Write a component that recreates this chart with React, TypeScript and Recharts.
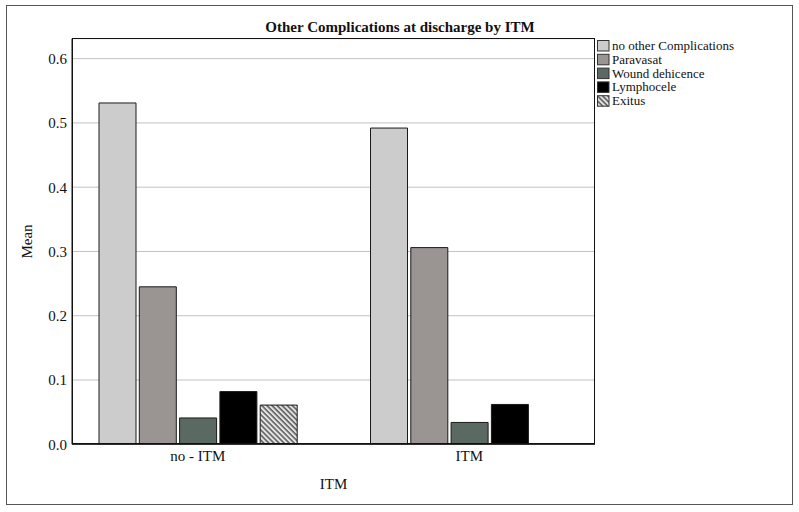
import React from "react";
import { BarChart, Bar, XAxis, YAxis, CartesianGrid } from "recharts";

// groups on the x axis
const categories = ["no - ITM", "ITM"];

// mean per group
const noOtherComplications = [0.531, 0.492];
const paravasat = [0.245, 0.306];
const woundDehicence = [0.041, 0.034];
const lymphocele = [0.082, 0.062];
const exitus = [0.061, null];

const yTicks = [0, 0.1, 0.2, 0.3, 0.4, 0.5, 0.6];

const SERIES = [
  { key: "noOther", name: "no other Complications", values: noOtherComplications, fill: "#cccccc" },
  { key: "paravasat", name: "Paravasat", values: paravasat, fill: "#9a9493" },
  { key: "wound", name: "Wound dehicence", values: woundDehicence, fill: "#5a6a62" },
  { key: "lympho", name: "Lymphocele", values: lymphocele, fill: "#000000" },
  { key: "exitus", name: "Exitus", values: exitus, fill: "url(#hatch)" },
];

const FONT = "Liberation Serif, DejaVu Serif, serif";

const data = categories.map((c, i) => {
  const row: Record<string, string | number | null> = { name: c };
  SERIES.forEach((s) => {
    row[s.key] = s.values[i];
  });
  return row;
});

function HatchDefs({ id }: { id: string }) {
  return (
    <defs>
      <pattern
        id={id}
        width="3.6"
        height="3.6"
        patternUnits="userSpaceOnUse"
        patternTransform="rotate(45)"
      >
        <rect width="3.6" height="3.6" fill="#e4e4e4" />
        <line x1="0" y1="0.8" x2="3.6" y2="0.8" stroke="#555" strokeWidth="1.5" />
      </pattern>
    </defs>
  );
}

function LegendBox() {
  return (
    <svg
      width={200}
      height={80}
      style={{ position: "absolute", left: 596, top: 38, fontFamily: FONT }}
    >
      <HatchDefs id="hatchLegend" />
      {SERIES.map((s, i) => (
        <g key={s.key} transform={`translate(0, ${i * 13.8})`}>
          <rect
            x={1.5}
            y={2.5}
            width={11.5}
            height={10.5}
            fill={s.fill === "url(#hatch)" ? "url(#hatchLegend)" : s.fill}
            stroke="#333"
            strokeWidth={1}
          />
          <text x={16} y={12} style={{ fontFamily: FONT, fontSize: 13 }} fill="#111">
            {s.name}
          </text>
        </g>
      ))}
    </svg>
  );
}

export default function App() {
  return (
    <div
      style={{
        position: "absolute",
        left: 0,
        top: 0,
        width: 799,
        height: 512,
        background: "#fff",
        fontFamily: FONT,
      }}
    >
      {/* outer frame */}
      <div
        style={{
          position: "absolute",
          left: 6,
          top: 5,
          width: 785,
          height: 498,
          border: "1.5px solid #555",
        }}
      />
      <BarChart
        width={799}
        height={512}
        data={data}
        margin={{ top: 38.7, right: 204, bottom: 22.7, left: 12 }}
        barSize={37}
        barGap={3.3}
        style={{ position: "absolute", left: 0, top: 0, fontFamily: FONT }}
      >
        <HatchDefs id="hatch" />
        <text
          x={400}
          y={32}
          textAnchor="middle"
          style={{ fontFamily: FONT, fontSize: 15, fontWeight: "bold" }}
          fill="#111"
        >
          Other Complications at discharge by ITM
        </text>
        <CartesianGrid vertical={false} stroke="#c2c2c2" strokeWidth={1} />
        <XAxis
          dataKey="name"
          height={45}
          padding={{ left: -10, right: -10 }}
          axisLine={{ stroke: "#111" }}
          tickLine={false}
          tickSize={6}
          tickMargin={0}
          tick={{ fontSize: 15, fill: "#111", style: { fontFamily: FONT } }}
          label={{
            value: "ITM",
            position: "insideBottom",
            offset: 0,
            style: { fontFamily: FONT, fontSize: 15, fill: "#111" },
          }}
        />
        <YAxis
          width={60}
          domain={[0, 0.631]}
          ticks={yTicks}
          allowDataOverflow
          axisLine={{ stroke: "#111" }}
          tickLine={false}
          tickSize={3}
          tickMargin={2}
          tickFormatter={(v: number) => v.toFixed(1)}
          tick={{ fontSize: 15, fill: "#111", style: { fontFamily: FONT } }}
          label={{
            value: "Mean",
            angle: -90,
            position: "insideLeft",
            offset: 15,
            style: { fontFamily: FONT, fontSize: 15, fill: "#111", textAnchor: "middle" },
          }}
        />
        {SERIES.map((s) => (
          <Bar
            key={s.key}
            dataKey={s.key}
            name={s.name}
            fill={s.fill}
            stroke="#1a1a1a"
            strokeWidth={1}
            isAnimationActive={false}
          />
        ))}
      </BarChart>
      {/* plot frame */}
      <div
        style={{
          position: "absolute",
          left: 71.5,
          top: 38.2,
          width: 523.5,
          height: 405.6,
          border: "1px solid #111",
          boxSizing: "border-box",
          pointerEvents: "none",
        }}
      />
      <LegendBox />
    </div>
  );
}
